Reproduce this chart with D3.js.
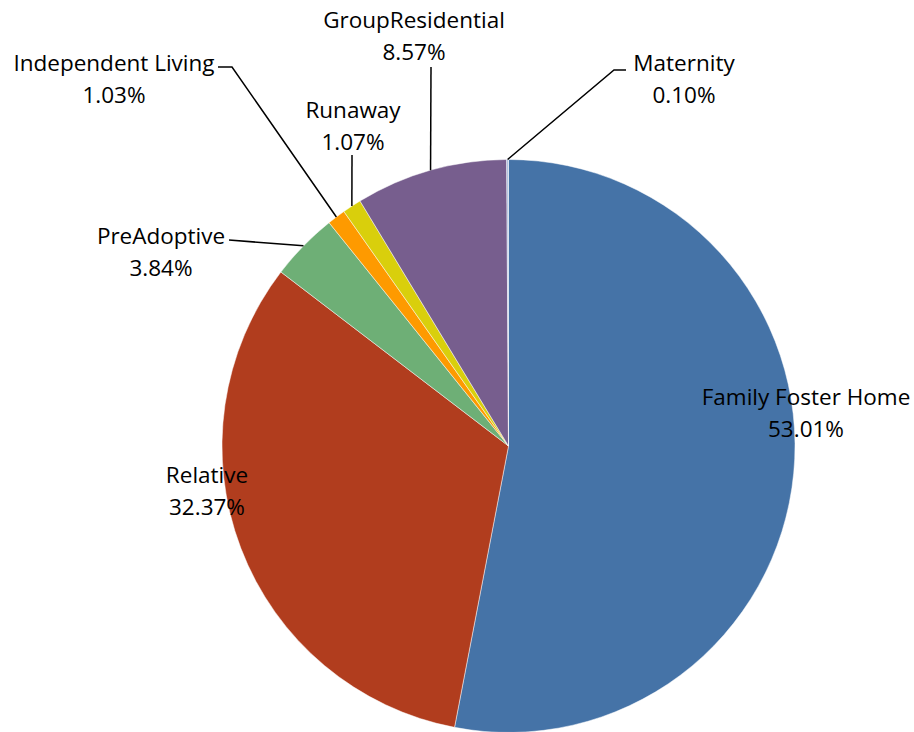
<!DOCTYPE html>
<html><head><meta charset="utf-8">
<script src="https://cdn.jsdelivr.net/npm/d3@7/dist/d3.min.js"></script>
<style>html,body{margin:0;padding:0;background:#fff;}svg{display:block;}</style>
</head><body>
<svg id="chart" width="914" height="732"></svg>
<script>
const categories = ["Family Foster Home","Relative","PreAdoptive","Independent Living","Runaway","GroupResidential","Maternity"];
const values = [53.01, 32.37, 3.84, 1.03, 1.07, 8.57, 0.10];
const valueLabels = ["53.01%","32.37%","3.84%","1.03%","1.07%","8.57%","0.10%"];
const colors = ["#4573a7","#b13d1e","#6eaf76","#fe9a00","#d9cf0c","#775e8e","#a9bbdc"];

// layout (label placement, leader line elbows)
const layout = {
  "Family Foster Home": {x:806, y:405, leader:null},
  "Relative": {x:207, y:483, leader:null},
  "PreAdoptive": {x:161, y:244, leader:[[229,240]]},
  "Independent Living": {x:114, y:71, leader:[[218,67],[232,67]]},
  "Runaway": {x:353, y:118, leader:[[352,155]]},
  "GroupResidential": {x:414, y:28, leader:[[431,67]]},
  "Maternity": {x:684, y:71, leader:[[626,70],[614,70]]}
};

const svg = d3.select("#chart");
const cx = 508.5, cy = 446, r = 286.5;
const g = svg.append("g").attr("transform", `translate(${cx},${cy})`);

const pie = d3.pie().sort(null).value(d => d.v);
const data = categories.map((c,i) => ({c, v: values[i], lab: valueLabels[i], col: colors[i]}));
const arcs = pie(data);
const arc = d3.arc().innerRadius(0).outerRadius(r);

g.selectAll("path.slice").data(arcs).join("path")
  .attr("class","slice")
  .attr("d", arc)
  .attr("fill", d => d.data.col)
  .attr("stroke", "#ffffff")
  .attr("stroke-opacity", 0.6)
  .attr("stroke-width", 0.8);

const font = "'Open Sans', Lato, sans-serif";
const fs = 22.5;

arcs.forEach(d => {
  const L = layout[d.data.c];
  if (L.leader) {
    const mid = (d.startAngle + d.endAngle)/2;
    const px = cx + Math.sin(mid)*r, py = cy - Math.cos(mid)*r;
    const pts = [...L.leader, [px, py]];
    svg.append("path")
      .attr("d", d3.line()(pts))
      .attr("fill","none").attr("stroke","#000").attr("stroke-width",1.5);
  }
  const t = svg.append("text")
    .attr("x", L.x).attr("y", L.y)
    .attr("text-anchor","middle")
    .attr("font-family", font).attr("font-size", fs).attr("fill","#000");
  t.append("tspan").attr("x", L.x).attr("dy", 0).text(d.data.c);
  t.append("tspan").attr("x", L.x).attr("dy", 31.5).text(d.data.lab);
});
</script>
</body></html>
